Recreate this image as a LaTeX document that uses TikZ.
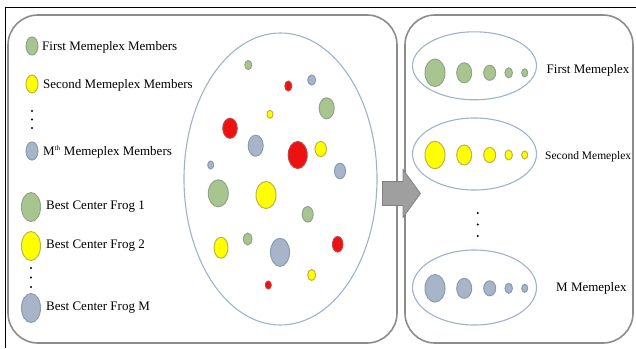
\documentclass[tikz,border=0pt]{standalone}
\usepackage{fontspec}
\setmainfont{Liberation Serif}
\usepackage{xcolor}
\usetikzlibrary{shapes,arrows,positioning}

\definecolor{frogGreen}{HTML}{A9C58F}
\definecolor{frogGreenEdge}{HTML}{8DA68A}
\definecolor{frogYellow}{HTML}{FFFF00}
\definecolor{frogYellowEdge}{HTML}{BDB53C}
\definecolor{frogRed}{HTML}{EE1111}
\definecolor{frogRedEdge}{HTML}{C04545}
\definecolor{frogGray}{HTML}{A8B5C9}
\definecolor{frogGrayEdge}{HTML}{8A9AB3}
\definecolor{ringBlue}{HTML}{9FB2C9}
\definecolor{panelGray}{HTML}{8C8C8C}

\begin{document}
\begin{tikzpicture}[x=1pt, y=-1pt, font=\fontsize{13}{15}\selectfont]
    % Styles
    \tikzstyle{panel} = [rectangle, draw=panelGray, line width=1.6pt, rounded corners=30pt, inner sep=0pt]
    \tikzstyle{ring} = [ellipse, draw=ringBlue, line width=1.1pt, inner sep=0pt]
    \tikzstyle{frog} = [ellipse, line width=1pt, inner sep=0pt]
    \tikzstyle{greenfrog} = [frog, fill=frogGreen, draw=frogGreenEdge]
    \tikzstyle{yellowfrog} = [frog, fill=frogYellow, draw=frogYellowEdge]
    \tikzstyle{redfrog} = [frog, fill=frogRed, draw=frogRedEdge]
    \tikzstyle{grayfrog} = [frog, fill=frogGray, draw=frogGrayEdge]
    \tikzstyle{tinydot} = [circle, fill=black, inner sep=0pt, minimum size=2.4pt]
    \tikzstyle{legendtext} = [anchor=west, inner sep=0pt]
    \tikzstyle{bigarrow} = [single arrow, fill=gray!75, draw=gray, line width=0.8pt, inner xsep=0pt, inner ysep=11.5pt, minimum height=38pt, single arrow head extend=12pt, single arrow tip angle=108]

    \useasboundingbox (0,0) rectangle (636,348);
    \draw[line width=1pt] (5,348) -- (5,7) -- (636,7);

    % Panels
    \node[panel, minimum width=389pt, minimum height=328pt] (pool) at (202.5,179) {};
    \node[panel, minimum width=228pt, minimum height=328pt] (groups) at (519,179) {};
    \node[ring, minimum width=193pt, minimum height=292pt] (pond) at (280.5,179) {};

    % Legend
    \node[greenfrog, minimum width=12pt, minimum height=18pt] (lg1) at (32,46) {};
    \node[legendtext] (lt1) at (42,47) {First Memeplex Members};
    \node[yellowfrog, minimum width=12pt, minimum height=18pt] (lg2) at (32,84) {};
    \node[legendtext] (lt2) at (43,85) {Second Memeplex Members};
    \node[tinydot] (ld1) at (32,111) {};
    \node[tinydot] (ld2) at (32,119.5) {};
    \node[tinydot] (ld3) at (32,128) {};
    \node[grayfrog, minimum width=12pt, minimum height=18pt] (lg3) at (32,151) {};
    \node[legendtext] (lt3) at (43,152) {M\textsuperscript{\fontsize{7}{8}\selectfont th} Memeplex Members};
    \node[greenfrog, minimum width=19pt, minimum height=29pt] (lb1) at (31,207) {};
    \node[legendtext] (lb1t) at (46,207) {Best Center Frog 1};
    \node[yellowfrog, minimum width=19pt, minimum height=29pt] (lb2) at (31,246) {};
    \node[legendtext] (lb2t) at (46,246) {Best Center Frog 2};
    \node[tinydot] (ld4) at (31,268) {};
    \node[tinydot] (ld5) at (31,277.5) {};
    \node[tinydot] (ld6) at (31,287) {};
    \node[grayfrog, minimum width=19pt, minimum height=29pt] (lb3) at (31,308) {};
    \node[legendtext] (lb3t) at (46,308) {Best Center Frog M};

    % Frogs in the pond
    \node[greenfrog, minimum width=7pt, minimum height=9pt] (p1) at (248.3,65) {};
    \node[redfrog, minimum width=7pt, minimum height=10pt] (p2) at (288.3,86) {};
    \node[grayfrog, minimum width=8pt, minimum height=10pt] (p3) at (311.7,80) {};
    \node[greenfrog, minimum width=15pt, minimum height=21pt] (p4) at (326.7,108.3) {};
    \node[yellowfrog, minimum width=6pt, minimum height=8pt] (p5) at (270,114.3) {};
    \node[redfrog, minimum width=14.5pt, minimum height=20pt] (p6) at (230,128.3) {};
    \node[grayfrog, minimum width=15pt, minimum height=21pt] (p7) at (255.7,145.7) {};
    \node[redfrog, minimum width=19pt, minimum height=27pt] (p8) at (297.7,155) {};
    \node[yellowfrog, minimum width=11.5pt, minimum height=15pt] (p9) at (320.7,149) {};
    \node[grayfrog, minimum width=6pt, minimum height=8pt] (p10) at (210.7,165) {};
    \node[grayfrog, minimum width=11pt, minimum height=15.5pt] (p11) at (340,171) {};
    \node[greenfrog, minimum width=20pt, minimum height=27pt] (p12) at (218.3,193.3) {};
    \node[yellowfrog, minimum width=20pt, minimum height=27pt] (p13) at (266,195) {};
    \node[greenfrog, minimum width=11pt, minimum height=15.5pt] (p14) at (307.7,214.3) {};
    \node[yellowfrog, minimum width=14pt, minimum height=21pt] (p15) at (221,247.7) {};
    \node[greenfrog, minimum width=8.5pt, minimum height=12pt] (p16) at (247.7,239) {};
    \node[grayfrog, minimum width=19pt, minimum height=28pt] (p17) at (280,252.3) {};
    \node[redfrog, minimum width=10.5pt, minimum height=15.5pt] (p18) at (337.7,244.3) {};
    \node[yellowfrog, minimum width=8pt, minimum height=11pt] (p19) at (311.7,275) {};
    \node[redfrog, minimum width=6pt, minimum height=8pt] (p20) at (268.3,285) {};

    % Arrow
    \node[bigarrow, anchor=tail] (move) at (382,193.5) {};

    % Memeplexes
    \node[ring, minimum width=124pt, minimum height=68pt] (m1) at (474.5,65.8) {};
    \node[greenfrog, minimum width=20pt, minimum height=27.5pt] (m1a) at (435,72.8) {};
    \node[greenfrog, minimum width=15pt, minimum height=20pt] (m1b) at (464.2,72.8) {};
    \node[greenfrog, minimum width=12pt, minimum height=15pt] (m1c) at (489.7,72.8) {};
    \node[greenfrog, minimum width=7.5pt, minimum height=10pt] (m1d) at (508.7,72.8) {};
    \node[greenfrog, minimum width=6pt, minimum height=8pt] (m1e) at (524.7,72.8) {};
    \node[legendtext] (m1t) at (546.5,70) {First Memeplex};

    \node[ring, minimum width=124pt, minimum height=72pt] (m2) at (474.5,154) {};
    \node[yellowfrog, minimum width=20pt, minimum height=27.5pt] (m2a) at (435,155) {};
    \node[yellowfrog, minimum width=15pt, minimum height=20pt] (m2b) at (464.2,155) {};
    \node[yellowfrog, minimum width=12pt, minimum height=15pt] (m2c) at (489.7,155) {};
    \node[yellowfrog, minimum width=7.5pt, minimum height=10pt] (m2d) at (508.7,155) {};
    \node[yellowfrog, minimum width=6pt, minimum height=8pt] (m2e) at (524.7,155) {};
    \node[legendtext, font=\fontsize{11.5}{13}\selectfont] (m2t) at (545,157) {Second Memeplex};

    \node[tinydot] (md1) at (477.7,213) {};
    \node[tinydot] (md2) at (477.7,224.5) {};
    \node[tinydot] (md3) at (477.7,236) {};

    \node[ring, minimum width=124pt, minimum height=75pt] (m3) at (474.5,287.5) {};
    \node[grayfrog, minimum width=20pt, minimum height=27.5pt] (m3a) at (435,288.3) {};
    \node[grayfrog, minimum width=15pt, minimum height=20pt] (m3b) at (464.2,288.3) {};
    \node[grayfrog, minimum width=12pt, minimum height=15pt] (m3c) at (489.7,288.3) {};
    \node[grayfrog, minimum width=7.5pt, minimum height=10pt] (m3d) at (508.7,288.3) {};
    \node[grayfrog, minimum width=6pt, minimum height=8pt] (m3e) at (524.7,288.3) {};
    \node[legendtext] (m3t) at (556,288) {M Memeplex};
\end{tikzpicture}
\end{document}
